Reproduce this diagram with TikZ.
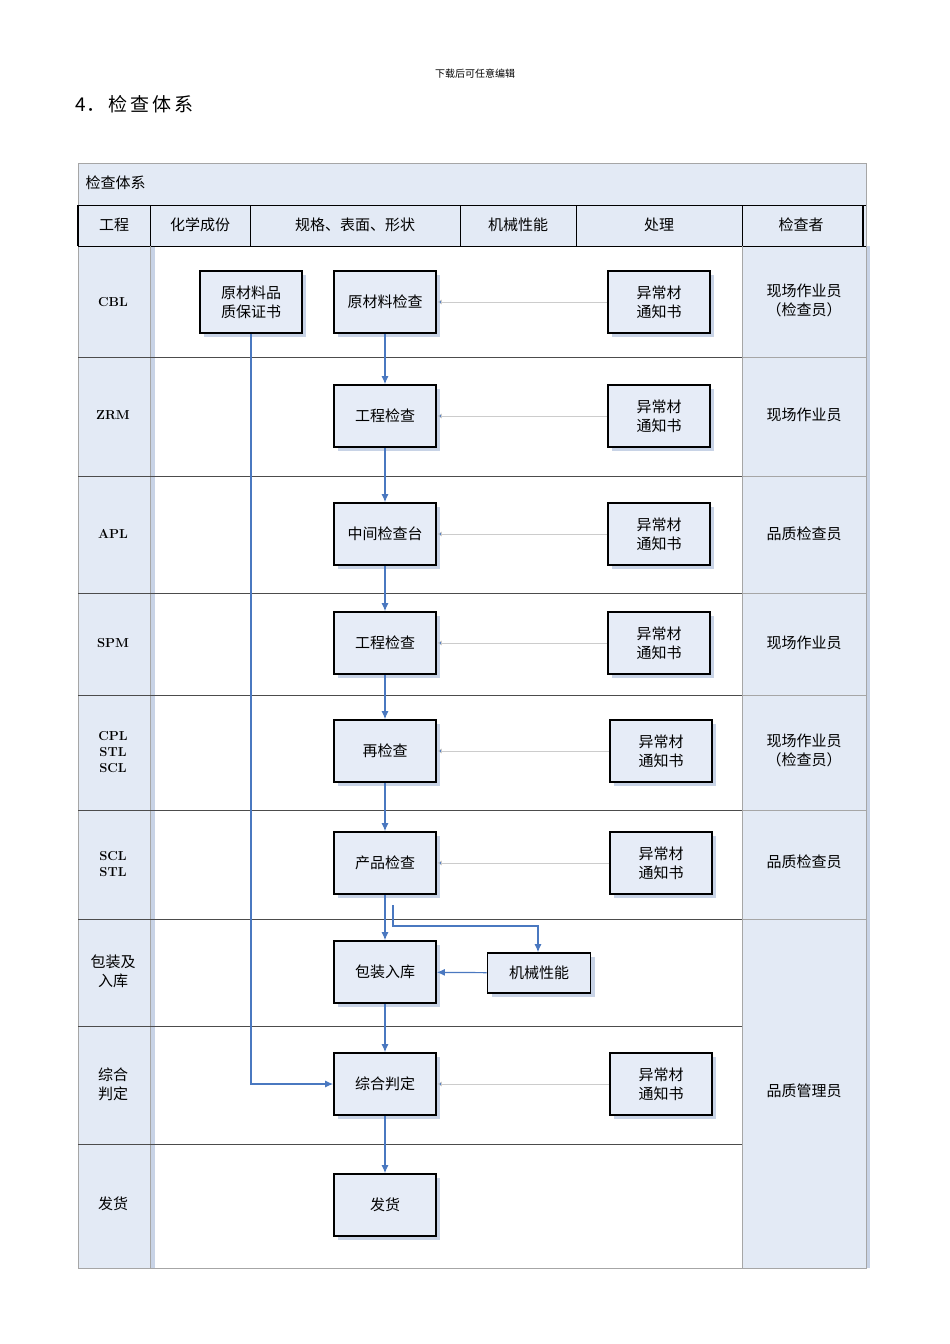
\documentclass[tikz,border=0pt]{standalone}
\usepackage{fontspec}
\newfontfamily\cjk{Noto Sans CJK SC}
\usetikzlibrary{arrows.meta,shadows}
\definecolor{cellbg}{HTML}{E3EAF5}
\definecolor{boxbg}{HTML}{E6ECF7}
\definecolor{flow}{HTML}{4A78C0}
\definecolor{shad}{HTML}{C8D3E6}
\begin{document}
\begin{tikzpicture}[x=1pt,y=-1pt,font=\cjk,
 proc/.style={draw=black,line width=1.6pt,fill=boxbg,minimum width=102pt,minimum height=62pt,align=center,font=\cjk\fontsize{15}{19}\selectfont,inner sep=1pt,
   drop shadow={shadow xshift=4pt,shadow yshift=-4pt,fill=shad,opacity=1}},
 flowa/.style={draw=flow,line width=1.2pt,-{Latex[length=8pt,width=7pt]}},
 thin/.style={draw=gray!40,line width=0.6pt,-{Latex[length=5pt,width=5pt,fill=flow]}},
 lane/.style={font=\rmfamily\bfseries\fontsize{13}{16}\selectfont,align=center},
 lanec/.style={font=\cjk\fontsize{15}{19}\selectfont,align=center},
 hdr/.style={font=\cjk\fontsize{15}{19}\selectfont}]
\useasboundingbox (0,0) rectangle (950,1344);
\node[font=\cjk\fontsize{10}{12}\selectfont] (top) at (475,74) {下载后可任意编辑};
\node[anchor=west,font=\cjk\fontsize{19}{22}\selectfont] (ttl) at (72,104) {4．\,检\,查\,体\,系};
% backgrounds
\fill[cellbg] (78,163) rectangle (866,246);
\fill[cellbg] (78,246) rectangle (150,1268);
\fill[cellbg] (742,246) rectangle (866,1268);
\fill[shad] (150,246) rectangle (155,1268);
\fill[shad] (866,246) rectangle (870,1268);
% frame
\draw[gray!70,line width=0.8pt] (78,163) rectangle (866,1268);
\draw[black,line width=1pt] (78,205) -- (866,205);
\draw[black,line width=1pt] (78,246) -- (866,246);
\draw[black,line width=1.4pt] (78,205) -- (78,246);
\draw[black,line width=2pt] (863,205) -- (863,246);
\foreach \x in {150,250,460,576,742} \draw[black,line width=0.8pt] (\x,205) -- (\x,246);
\draw[gray!70,line width=0.8pt] (150,246) -- (150,1268);
\draw[gray!70,line width=0.8pt] (742,246) -- (742,1268);
\foreach \y in {357,476,593,695,810,919,1026,1144} \draw[black!70,line width=0.7pt] (78,\y) -- (742,\y);
\foreach \y in {357,476,593,695,810,919} \draw[gray!70,line width=0.7pt] (742,\y) -- (866,\y);
% header text
\node[anchor=west,hdr] (h0) at (82,183) {检查体系};
\node[hdr] (h1) at (114,225) {工程};
\node[hdr] (h2) at (200,225) {化学成份};
\node[hdr] (h3) at (355,225) {规格、表面、形状};
\node[hdr] (h4) at (518,225) {机械性能};
\node[hdr] (h5) at (659,225) {处理};
\node[hdr] (h6) at (801,225) {检查者};
% lanes
\node[lane] (l1) at (113,302) {CBL};
\node[lane] (l2) at (113,415) {ZRM};
\node[lane] (l3) at (113,534) {APL};
\node[lane] (l4) at (113,643) {SPM};
\node[lane] (l5) at (113,752) {CPL\\STL\\SCL};
\node[lane] (l6) at (113,864) {SCL\\STL};
\node[lanec] (l7) at (113,971) {包装及\\入库};
\node[lanec] (l8) at (113,1084) {综合\\判定};
\node[lanec] (l9) at (113,1204) {发货};
% inspectors
\node[lanec] (r1) at (804,300) {现场作业员\\（检查员）};
\node[lanec] (r2) at (804,415) {现场作业员};
\node[lanec] (r3) at (804,534) {品质检查员};
\node[lanec] (r4) at (804,643) {现场作业员};
\node[lanec] (r5) at (804,750) {现场作业员\\（检查员）};
\node[lanec] (r6) at (804,862) {品质检查员};
\node[lanec] (r7) at (804,1091) {品质管理员};
% boxes
\node[proc] (q) at (251,302) {原材料品\\质保证书};
\node[proc] (b1) at (385,302) {原材料检查};
\node[proc] (b2) at (385,416) {工程检查};
\node[proc] (b3) at (385,534) {中间检查台};
\node[proc] (b4) at (385,643) {工程检查};
\node[proc] (b5) at (385,751) {再检查};
\node[proc] (b6) at (385,863) {产品检查};
\node[proc] (b7) at (385,972) {包装入库};
\node[proc] (b8) at (385,1084) {综合判定};
\node[proc] (b9) at (385,1205) {发货};
\node[proc,minimum width=103pt,minimum height=40pt] (m) at (539,973) {机械性能};
\node[proc] (a1) at (659,302) {异常材\\通知书};
\node[proc] (a2) at (659,416) {异常材\\通知书};
\node[proc] (a3) at (659,534) {异常材\\通知书};
\node[proc] (a4) at (659,643) {异常材\\通知书};
\node[proc] (a5) at (661,751) {异常材\\通知书};
\node[proc] (a6) at (661,863) {异常材\\通知书};
\node[proc] (a8) at (661,1084) {异常材\\通知书};
% flow
\draw[flowa] (b1) -- (b2);
\draw[flowa] (b2) -- (b3);
\draw[flowa] (b3) -- (b4);
\draw[flowa] (b4) -- (b5);
\draw[flowa] (b5) -- (b6);
\draw[flowa] (b6) -- (b7);
\draw[flowa] (b7) -- (b8);
\draw[flowa] (b8) -- (b9);
\coordinate (br) at (393,905);
\draw[flowa] (br) |- (538,926) -- (m.north -| 538,0);
\draw[flowa] (m) -- (b7);
\draw[flowa] (q.south) |- (b8.west);
\foreach \i in {1,2,3,4,5,6,8} \draw[thin] (a\i) -- (b\i);
\end{tikzpicture}
\end{document}
